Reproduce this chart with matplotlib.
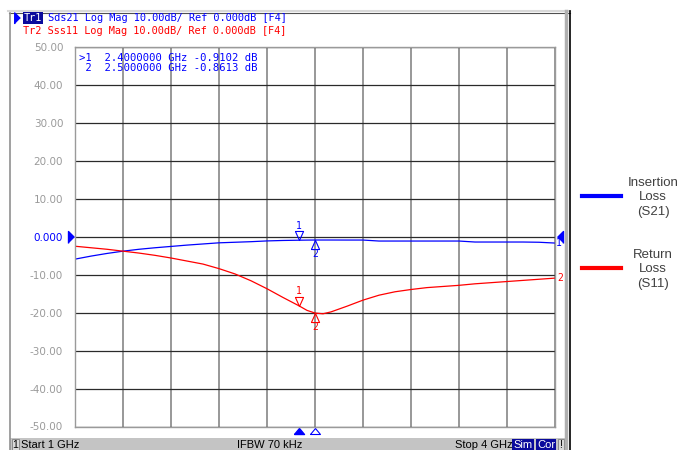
import matplotlib
matplotlib.use('Agg')
import matplotlib.pyplot as plt
from matplotlib import transforms
from matplotlib.patches import Rectangle
from matplotlib.lines import Line2D

# trace data (GHz / dB)
freq_ghz = [1.0, 1.1, 1.2, 1.3, 1.4, 1.5, 1.6, 1.7, 1.8, 1.9, 2.0, 2.1, 2.2, 2.3, 2.4,
            2.45, 2.5, 2.55, 2.6, 2.7, 2.8, 2.9, 3.0, 3.1, 3.2, 3.3, 3.4, 3.5, 3.6,
            3.7, 3.8, 3.9, 4.0]
s21_db = [-5.9, -5.1, -4.4, -3.8, -3.3, -2.9, -2.55, -2.2, -1.9, -1.6, -1.45, -1.3, -1.1,
          -0.98, -0.91, -0.88, -0.86, -0.86, -0.86, -0.87, -0.87, -1.13, -1.13, -1.13,
          -1.13, -1.13, -1.13, -1.39, -1.39, -1.39, -1.39, -1.45, -1.66]
s11_db = [-2.5, -2.9, -3.3, -3.8, -4.3, -4.9, -5.6, -6.4, -7.2, -8.4, -9.8, -11.6, -13.7,
          -16.0, -18.2, -19.4, -20.1, -20.3, -19.8, -18.3, -16.7, -15.4, -14.5, -13.9,
          -13.4, -13.1, -12.8, -12.4, -12.1, -11.8, -11.5, -11.2, -10.9]

marker_freqs = [2.4, 2.5]
marker_readout_db = [-0.9102, -0.8613]

y_ticks = [50, 40, 30, 20, 10, 0, -10, -20, -30, -40, -50]
y_tick_labels = ["50.00", "40.00", "30.00", "20.00", "10.00", "0.000",
                 "-10.00", "-20.00", "-30.00", "-40.00", "-50.00"]
x_ticks = [1.0 + 0.3 * i for i in range(11)]

BLUE = '#0000ff'
RED = '#ff0000'
NAVY = '#0a0a9c'
MONO = 'DejaVu Sans Mono'

fig = plt.figure(figsize=(6.8, 4.5), dpi=100)
fig.patch.set_facecolor('white')

# background layer in pixel coords for the instrument window decoration
bg = fig.add_axes([0, 0, 1, 1], zorder=0)
bg.set_xlim(0, 680)
bg.set_ylim(450, 0)
bg.axis('off')

# window frame
bg.add_line(Line2D([8, 570], [11, 11], color='#d8d8d8', lw=1.5))
bg.add_line(Line2D([9, 570], [13, 13], color='#505050', lw=0.8))
bg.add_line(Line2D([9.5, 9.5], [13, 450], color='#909090', lw=1.2))
bg.add_line(Line2D([566, 566], [11, 450], color='#b0b0b0', lw=2.5))
bg.add_line(Line2D([569.5, 569.5], [11, 450], color='black', lw=1.2))

# status bar
bg.add_patch(Rectangle((10, 438), 556, 12, color='#c4c4c4', lw=0))
bg.add_patch(Rectangle((11.5, 439), 7, 11, fc='#d8d8d8', ec='#808080', lw=0.6))
bg.text(15, 444.5, "1", fontsize=7.5, family='Liberation Sans', ha='center', va='center')
bg.text(21, 444.5, "Start 1 GHz", fontsize=8, family='Liberation Sans', va='center')
bg.text(237, 444.5, "IFBW 70 kHz", fontsize=8, family='Liberation Sans', va='center')
bg.text(455, 444.5, "Stop 4 GHz", fontsize=8, family='Liberation Sans', va='center')
bg.add_patch(Rectangle((512, 439), 22, 11, color=NAVY, lw=0))
bg.text(523, 444.5, "Sim", fontsize=8, family='Liberation Sans', color='white',
        ha='center', va='center')
bg.add_patch(Rectangle((536, 439), 20, 11, color=NAVY, lw=0))
bg.text(546, 444.5, "Cor", fontsize=8, family='Liberation Sans', color='white',
        ha='center', va='center')
bg.add_patch(Rectangle((558, 439), 6, 11, fc='#d8d8d8', ec='#808080', lw=0.6))
bg.text(561, 444.5, "!", fontsize=7.5, family='Liberation Sans', ha='center', va='center')

# header lines
bg.plot([17], [18], marker=[(-0.5, -1), (-0.5, 1), (0.5, 0)], ms=8, color=BLUE)
bg.text(24, 18, "Tr1", fontsize=7.4, family=MONO, color='white', va='center',
        bbox=dict(boxstyle='square,pad=0.05', fc=NAVY, ec='none'))
bg.text(47.8, 18, "Sds21 Log Mag 10.00dB/ Ref 0.000dB [F4]", fontsize=7.4,
        family=MONO, color=BLUE, va='center')
bg.text(23, 31, "Tr2 Sss11 Log Mag 10.00dB/ Ref 0.000dB [F4]", fontsize=7.4,
        family=MONO, color=RED, va='center')

# legend on the right
bg.add_line(Line2D([582, 621], [196, 196], color=BLUE, lw=3))
bg.text(653, 197.5, "Insertion\nLoss\n(S21)", fontsize=9.5, family='Liberation Sans',
        color='#404040', ha='center', va='center', multialignment='center', linespacing=1.3)
bg.add_line(Line2D([582, 621], [268, 268], color=RED, lw=3))
bg.text(653, 269.5, "Return\nLoss\n(S11)", fontsize=9.5, family='Liberation Sans',
        color='#404040', ha='center', va='center', multialignment='center', linespacing=1.3)

# main trace area
ax = fig.add_axes([75 / 680, 1 - 426.5 / 450, 480 / 680, 379.5 / 450], zorder=1)
ax.set_xlim(1.0, 4.0)
ax.set_ylim(-50, 50)
ax.set_xticks(x_ticks)
ax.set_yticks(y_ticks)
ax.set_yticklabels(y_tick_labels)
ax.tick_params(axis='x', length=0, labelbottom=False)
ax.tick_params(axis='y', length=0, pad=8.5, labelsize=7.5, labelcolor='#9a9a9a')
for lbl in ax.get_yticklabels():
    if lbl.get_text() == "0.000":
        lbl.set_color(BLUE)
ax.grid(axis='x', color='#868686', lw=1.2)
ax.grid(axis='y', color='#2a2a2a', lw=0.9)
ax.set_axisbelow(True)
for sp in ax.spines.values():
    sp.set_color('#9a9a9a')
    sp.set_linewidth(1.0)

ax.plot(freq_ghz, s21_db, color=BLUE, lw=0.9)
ax.plot(freq_ghz, s11_db, color=RED, lw=0.9)

# marker glyphs: 1 above the trace, 2 below
tri_down = [(-0.45, 1), (0.45, 1), (0, 0), (-0.45, 1)]
tri_up = [(-0.45, -1), (0.45, -1), (0, 0), (-0.45, -1)]
for trace, color in [(s21_db, BLUE), (s11_db, RED)]:
    for n, f in enumerate(marker_freqs):
        y = trace[freq_ghz.index(f)]
        up = n == 0
        ax.plot([f], [y], marker=tri_down if up else tri_up, ms=13, mfc='none',
                mec=color, mew=0.8, clip_on=False)
        ax.annotate(str(n + 1), (f, y), xytext=(0, 6.8 if up else -6.8),
                    textcoords='offset points', ha='center',
                    va='bottom' if up else 'top', fontsize=7, family=MONO, color=color)

# marker readout table
rows = []
for n, (f, v) in enumerate(zip(marker_freqs, marker_readout_db)):
    prefix = ">" if n == 0 else " "
    rows.append(f"{prefix}{n + 1}  {f:.7f} GHz {v:.4f} dB")
ax.text(0.009, 0.983, "\n".join(rows), transform=ax.transAxes, fontsize=7.6,
        family=MONO, color=BLUE, va='top', ha='left', linespacing=1.0)

# stimulus marker positions below the grid
tb = transforms.blended_transform_factory(ax.transData, ax.transAxes)
bot_tri = [(-1, -0.6), (1, -0.6), (0, 0.6), (-1, -0.6)]
ax.plot([marker_freqs[0]], [-0.012], transform=tb, marker=bot_tri, ms=7.2,
        color=BLUE, clip_on=False)
ax.plot([marker_freqs[1]], [-0.012], transform=tb, marker=bot_tri, ms=7.2,
        mfc='white', mec=BLUE, mew=0.8, clip_on=False)

# reference level arrows and trace end numbers
ty = transforms.blended_transform_factory(ax.transAxes, ax.transData)
ax.plot([-0.008], [0], transform=ty, marker=[(-0.5, -1), (-0.5, 1), (0.5, 0)],
        ms=8.6, color=BLUE, clip_on=False)
ax.plot([1.01], [0], transform=ty, marker=[(0.5, -1), (0.5, 1), (-0.5, 0)],
        ms=8.6, color=BLUE, clip_on=False)
ax.text(1.002, s21_db[-1], "1", transform=ty, fontsize=7, family=MONO, color=BLUE,
        va='center', ha='left')
ax.text(1.004, s11_db[-1], "2", transform=ty, fontsize=7, family=MONO, color=RED,
        va='center', ha='left')

fig.savefig('out.png', dpi=100)
